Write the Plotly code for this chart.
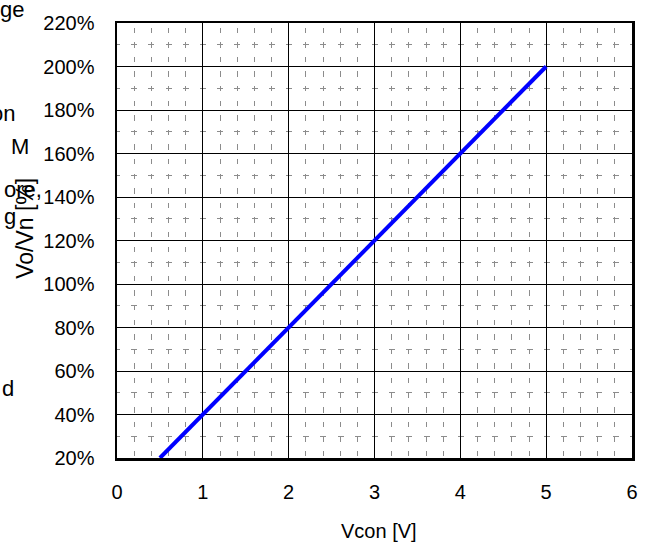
import plotly.graph_objects as go

# ---- data ----
vcon = [0.5, 1, 2, 3, 4, 5]
vo_pct = [20, 40, 80, 120, 160, 200]
x_ticks = [0, 1, 2, 3, 4, 5, 6]
y_ticks = [20, 40, 60, 80, 100, 120, 140, 160, 180, 200, 220]
y_ticktext = [f"{v}%" for v in y_ticks]
x_title = "Vcon [V]"
y_title = "Vo/Vn [%]"
# clipped text from neighbouring page content on the left edge
fragments = ["ge", "on", "M", "ore,", "g", "d"]
frag_right_px = [26, 17, 31, 44, 18, 16]
frag_center_px = [4, 110, 143, 186, 214, 388]

W, H = 650, 547
L, R, T, B = 117, 17, 18, 89
PW, PH = W - L - R, H - T - B
FONT = "Liberation Sans, Arial, sans-serif"


def px(x):
    return (x - L) / PW


def py(y):
    return 1 - (y - T) / PH


fig = go.Figure()
fig.add_trace(go.Scatter(
    x=vcon, y=vo_pct, mode="lines",
    line=dict(color="#0000ff", width=4),
    hoverinfo="skip", showlegend=False,
))

annotations = [
    dict(text=x_title, x=px(380), y=py(532), xref="paper", yref="paper",
         showarrow=False, font=dict(size=20, color="black", family=FONT),
         xanchor="center", yanchor="middle"),
    dict(text=y_title, x=px(24), y=py(226), xref="paper", yref="paper",
         showarrow=False, textangle=-90,
         font=dict(size=23, color="black", family=FONT),
         xanchor="center", yanchor="middle"),
]
for t, xr, yc in zip(fragments, frag_right_px, frag_center_px):
    annotations.append(dict(
        text=t, x=px(xr), y=py(yc), xref="paper", yref="paper",
        showarrow=False, font=dict(size=22, color="black", family=FONT),
        xanchor="right", yanchor="middle"))

fig.update_layout(
    width=W, height=H,
    margin=dict(l=L, r=R, t=T, b=B, pad=0),
    paper_bgcolor="white", plot_bgcolor="white",
    font=dict(family=FONT, size=20, color="black"),
    showlegend=False,
    annotations=annotations,
    xaxis=dict(
        range=[0, 6], tickvals=x_ticks, ticks="",
        showgrid=True, gridcolor="black", gridwidth=1,
        showline=True, linecolor="black", linewidth=2.5, mirror=True,
        zeroline=False, ticklabelstandoff=14,
        tickfont=dict(size=20, family=FONT),
        minor=dict(dtick=0.2, showgrid=True, gridcolor="#8c8c8c",
                   gridwidth=1, griddash="0px,4.6px,5.4px,4.6px", ticks=""),
    ),
    yaxis=dict(
        range=[20, 220], tickvals=y_ticks, ticktext=y_ticktext, ticks="",
        showgrid=True, gridcolor="black", gridwidth=1,
        showline=True, linecolor="black", linewidth=2.5, mirror=True,
        zeroline=False, ticklabelstandoff=16,
        tickfont=dict(size=20, family=FONT),
        minor=dict(dtick=10, showgrid=True, gridcolor="#8c8c8c",
                   gridwidth=1, griddash="3px,11.2px,3px,0px", ticks=""),
    ),
)

fig.write_html("out.html",
               config={"displayModeBar": False, "staticPlot": True},
               post_script="document.body.style.margin='0';document.body.style.overflow='hidden';")
